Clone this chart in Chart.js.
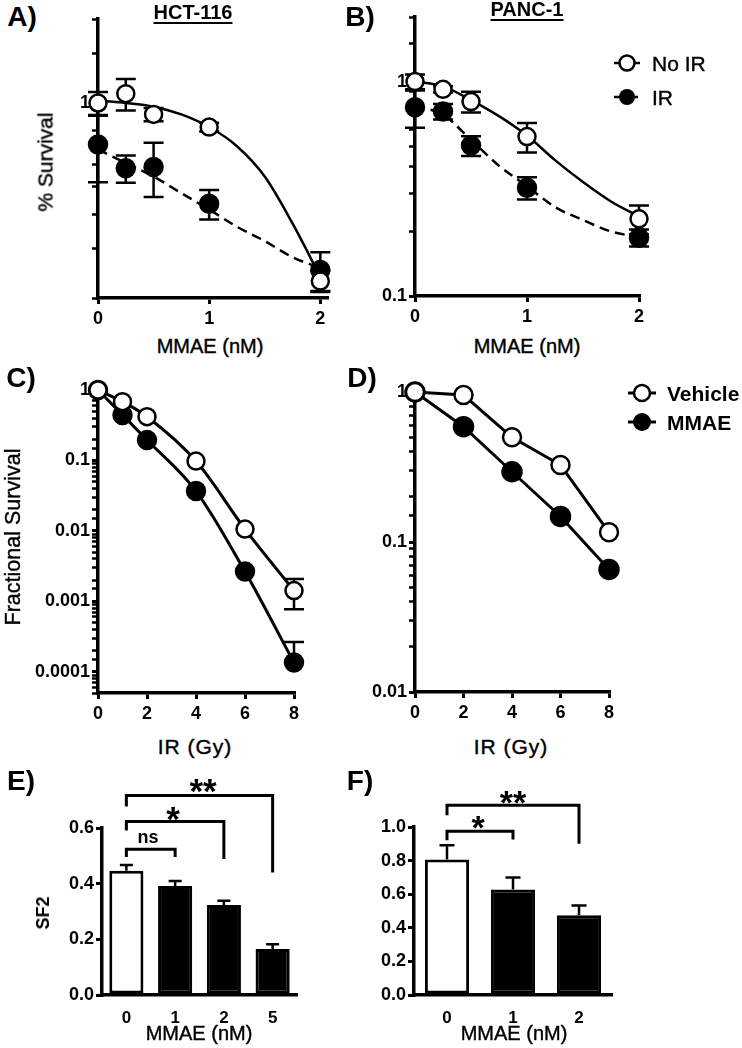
<!DOCTYPE html>
<html>
<head>
<meta charset="utf-8">
<script src="https://cdn.jsdelivr.net/npm/chart.js@4.4.0/dist/chart.umd.min.js"></script>
<style>
body{margin:0;background:#fff;font-family:"Liberation Sans",Arial,sans-serif;color:#000}
#page{position:relative;width:742px;height:1048px;overflow:hidden}
canvas{position:absolute}
.t{position:absolute;transform:translate(-50%,-50%);white-space:nowrap;line-height:1;-webkit-text-stroke:0.4px #000}
.r{transform:translate(-50%,-50%) rotate(-90deg)}
.lt{position:absolute;transform:translateY(-50%);white-space:nowrap;line-height:1;font-size:21px;-webkit-text-stroke:0.4px #000}
.sym{position:absolute;transform:translate(-50%,-50%)}
.b{font-weight:bold;-webkit-text-stroke:0}
.u{text-decoration:underline;text-underline-offset:3px}
</style>
</head>
<body>
<div id="page">
  <div class="t b" style="left:22px;top:17px;font-size:28px">A)</div>
  <div class="t b u" style="left:193px;top:12px;font-size:20px">HCT-116</div>
  <div class="t b" style="left:360px;top:17px;font-size:28px">B)</div>
  <div class="t b u" style="left:527px;top:9px;font-size:20px">PANC-1</div>
  <div class="t r" style="left:45px;top:162px;font-size:21px">% Survival</div>
  <div class="t" style="left:210px;top:346px;font-size:20px">MMAE (nM)</div>
  <div class="t" style="left:527px;top:346px;font-size:20px">MMAE (nM)</div>

  <svg class="sym" style="left:627px;top:63px" width="30" height="20"><line x1="2" y1="10" x2="28" y2="10" stroke="#000" stroke-width="2.5"/><circle cx="15" cy="10" r="7.5" fill="#fff" stroke="#000" stroke-width="2.5"/></svg>
  <div class="lt" style="left:652px;top:63px">No IR</div>
  <svg class="sym" style="left:627px;top:97px" width="30" height="20"><line x1="2" y1="10" x2="28" y2="10" stroke="#000" stroke-width="2.5" stroke-dasharray="6 3"/><circle cx="15" cy="10" r="8" fill="#000"/></svg>
  <div class="lt" style="left:652px;top:97px">IR</div>

  <div class="t b" style="left:21px;top:378px;font-size:28px">C)</div>
  <div class="t b" style="left:362px;top:378px;font-size:28px">D)</div>
  <div class="t r" style="left:14px;top:537px;font-size:21.5px">Fractional Survival</div>
  <div class="t" style="left:195px;top:746px;font-size:21px;letter-spacing:1px">IR (Gy)</div>
  <div class="t" style="left:511px;top:746px;font-size:21px;letter-spacing:1px">IR (Gy)</div>

  <svg class="sym" style="left:642px;top:393px" width="30" height="22"><line x1="1" y1="11" x2="29" y2="11" stroke="#000" stroke-width="3"/><circle cx="15" cy="11" r="8" fill="#fff" stroke="#000" stroke-width="2.5"/></svg>
  <div class="lt b" style="left:667px;top:393px">Vehicle</div>
  <svg class="sym" style="left:642px;top:422px" width="30" height="22"><line x1="1" y1="11" x2="29" y2="11" stroke="#000" stroke-width="3"/><circle cx="15" cy="11" r="9" fill="#000"/></svg>
  <div class="lt b" style="left:667px;top:422px">MMAE</div>

  <div class="t b" style="left:21px;top:781px;font-size:28px">E)</div>
  <div class="t b" style="left:360px;top:781px;font-size:28px">F)</div>
  <div class="t b r" style="left:43px;top:913px;font-size:18px">SF2</div>
  <div class="t" style="left:199px;top:1033px;font-size:20px">MMAE (nM)</div>
  <div class="t" style="left:514px;top:1033px;font-size:20px">MMAE (nM)</div>
  <div class="t b" style="left:203px;top:790px;font-size:35px">**</div>
  <div class="t b" style="left:173px;top:818px;font-size:35px">*</div>
  <div class="t b" style="left:148px;top:837px;font-size:18px">ns</div>
  <div class="t b" style="left:513px;top:802px;font-size:34px">**</div>
  <div class="t b" style="left:478px;top:827px;font-size:34px">*</div>
</div>
<script>
// === Datos ===
// A) HCT-116, survival vs MMAE
const doseMMAE = [0, 0.25, 0.5, 1, 2];
const hctNoIR = [1.0, 1.08, 0.91, 0.82, 0.23];
const hctNoIRErr = [0.095, 0.14, 0.05, 0.03, 0.02];
const hctIR = [0.71, 0.583, 0.59, 0.435, 0.252];
const hctIRErr = [0.19, 0.065, 0.13, 0.053, 0.04];
const fitDose = [0, 0.25, 0.5, 0.75, 1, 1.25, 1.5, 1.75, 2];
const hctNoIRFit = [1.02, 1.0, 0.97, 0.91, 0.82, 0.70, 0.545, 0.37, 0.238];
const hctIRFit = [0.68, 0.61, 0.545, 0.475, 0.415, 0.36, 0.32, 0.28, 0.256];

// B) PANC-1, survival vs MMAE
const pancNoIR = [1.0, 0.92, 0.807, 0.554, 0.229];
const pancNoIRErr = [0.08, 0.03, 0.09, 0.087, 0.035];
const pancIR = [0.759, 0.725, 0.503, 0.32, 0.187];
const pancIRErr = [0.15, 0.06, 0.053, 0.038, 0.017];
const pancNoIRFit = [1.0, 0.95, 0.82, 0.69, 0.56, 0.43, 0.34, 0.276, 0.235];
const pancIRFit = [0.77, 0.70, 0.535, 0.405, 0.325, 0.26, 0.226, 0.2, 0.188];

// C) HCT-116 clonogenic
const gyC = [0, 1, 2, 4, 6, 8];
const hctVehicle = [1, 0.683, 0.418, 0.098, 0.0106, 0.00142];
const hctVehicleErr = [0, 0, 0, 0, 0, 0.00065];
const hctMMAE = [1, 0.442, 0.195, 0.0368, 0.00265, 0.000135];
const hctMMAEErr = [0, 0, 0, 0, 0, 0.00013];

// D) PANC-1 clonogenic
const gyD = [0, 2, 4, 6, 8];
const pancVehicle = [1, 0.955, 0.499, 0.326, 0.116];
const pancMMAE = [1, 0.587, 0.294, 0.148, 0.0656];

// E) / F) SF2
const sf2DoseE = ["0", "1", "2", "5"];
const hctSF2 = [0.446, 0.392, 0.323, 0.165];
const hctSF2Err = [0.021, 0.018, 0.016, 0.017];
const sf2DoseF = ["0", "1", "2"];
const pancSF2 = [0.806, 0.628, 0.475];
const pancSF2Err = [0.085, 0.072, 0.058];

// brackets: [from, to, line, left end, right end]
const hctBrackets = [[0, 1, 0.524, 0.496, 0.496], [0, 2, 0.623, 0.591, 0.489], [0, 3, 0.717, 0.677, 0.44]];
const pancBrackets = [[0, 1, 0.974, 0.921, 0.925], [0, 2, 1.129, 1.07, 0.901]];

Chart.defaults.font.family = '"Liberation Sans", Arial, sans-serif';
Chart.defaults.color = "#000";

const pts = (xs, ys) => xs.map((x, i) => ({x, y: ys[i]}));
const isDecade = v => Math.abs(Math.log10(v) - Math.round(Math.log10(v))) < 1e-6;

// === Error bars ===
const errorBars = {
    id: "errorBars",
    beforeDatasetsDraw(chart) {
        const ctx = chart.ctx, ys = chart.scales.y;
        chart.data.datasets.forEach((ds, i) => {
            if (!ds.errs) return;
            const meta = chart.getDatasetMeta(i);
            ctx.save();
            ctx.strokeStyle = "#000";
            ctx.lineWidth = ds.errWidth || 2.5;
            meta.data.forEach((el, j) => {
                const e = ds.errs[j];
                if (!e) return;
                const d = ds.data[j];
                const v = typeof d === "object" ? d.y : d;
                const w = ds.capWidth / 2;
                const top = ys.getPixelForValue(v + e);
                const lowCap = !ds.upOnly && v - e > ys.min;
                const bot = ys.getPixelForValue(lowCap ? v - e : v);
                ctx.beginPath();
                ctx.moveTo(el.x, top); ctx.lineTo(el.x, bot);
                ctx.moveTo(el.x - w, top); ctx.lineTo(el.x + w, top);
                if (lowCap) { ctx.moveTo(el.x - w, bot); ctx.lineTo(el.x + w, bot); }
                ctx.stroke();
            });
            ctx.restore();
        });
    }
};

// === Brackets ===
function bracketPlugin(items) {
    return {
        id: "brackets",
        afterDatasetsDraw(chart) {
            const ctx = chart.ctx, xs = chart.scales.x, ys = chart.scales.y;
            ctx.save();
            ctx.strokeStyle = "#000";
            ctx.lineWidth = 3;
            items.forEach(([a, b, line, endA, endB]) => {
                const x0 = xs.getPixelForValue(a), x1 = xs.getPixelForValue(b);
                ctx.beginPath();
                ctx.moveTo(x0, ys.getPixelForValue(endA));
                ctx.lineTo(x0, ys.getPixelForValue(line));
                ctx.lineTo(x1, ys.getPixelForValue(line));
                ctx.lineTo(x1, ys.getPixelForValue(endB));
                ctx.stroke();
            });
            ctx.restore();
        }
    };
}

// === Panel ===
function renderPanel(box, area, type, datasets, scales, labels, extra) {
    const page = document.getElementById("page");
    const cv = document.createElement("canvas");
    cv.width = box.w; cv.height = box.h;
    cv.style.left = box.x + "px"; cv.style.top = box.y + "px";
    page.insertBefore(cv, page.firstChild);
    scales.x.afterFit = s => { s.height = box.y + box.h - area.b; };
    scales.y.afterFit = s => { s.width = area.l - box.x; };
    new Chart(cv, {
        type,
        data: {labels, datasets},
        options: {
            responsive: false,
            animation: false,
            layout: {padding: {left: 0, top: area.t - box.y, right: box.x + box.w - area.r, bottom: 0}},
            plugins: {legend: {display: false}, tooltip: {enabled: false}},
            scales
        },
        plugins: [errorBars].concat(extra || [])
    });
}

const axisBorder = {color: "#000", width: 3.5};
const tickGrid = {drawOnChartArea: false, color: "#000", lineWidth: 3, tickLength: 6,
    tickWidth: c => (c.tick && c.scale.type === "logarithmic" && !isDecade(c.tick.value)) ? 2.5 : 3};

function logY(min, max) {
    return {type: "logarithmic", min, max, border: axisBorder, grid: tickGrid,
        ticks: {autoSkip: false, padding: 2, font: {size: 18, weight: "bold"},
            callback: v => isDecade(v) ? String(+v.toPrecision(6)) : ""}};
}
function linX(max, step) {
    return {type: "linear", min: 0, max, border: axisBorder, grid: tickGrid,
        ticks: {stepSize: step, includeBounds: false, padding: 4, font: {size: 18, weight: "bold"}}};
}

function dots(data, errs, filled, r, cap) {
    return {data, errs, capWidth: cap, showLine: false, clip: false,
        pointRadius: r, pointHoverRadius: r, pointBorderWidth: 2.5,
        pointBackgroundColor: filled ? "#000" : "#fff", pointBorderColor: "#000", borderColor: "#000"};
}
function fit(data, dashed) {
    return {data, showLine: true, pointRadius: 0, borderColor: "#000", borderWidth: 2.5, fill: false,
        cubicInterpolationMode: "monotone", borderDash: dashed ? [10, 6] : []};
}
function curve(ds, smooth) {
    return Object.assign(ds, {showLine: true, borderWidth: 3, cubicInterpolationMode: smooth ? "monotone" : "default"});
}

// A) HCT-116
renderPanel({x: 38, y: 0, w: 310, h: 335}, {l: 98, t: 19, r: 327, b: 298}, "scatter", [
    dots(pts(doseMMAE, hctNoIR), hctNoIRErr, false, 8.5, 20),
    dots(pts(doseMMAE, hctIR), hctIRErr, true, 9, 20),
    fit(pts(fitDose, hctNoIRFit), false),
    fit(pts(fitDose, hctIRFit), true)
], {x: linX(2.06, 1), y: logY(0.2, 2)});

// B) PANC-1
renderPanel({x: 355, y: 0, w: 305, h: 335}, {l: 415, t: 17, r: 639, b: 296}, "scatter", [
    dots(pts(doseMMAE, pancNoIR), pancNoIRErr, false, 8.5, 20),
    dots(pts(doseMMAE, pancIR), pancIRErr, true, 9, 20),
    fit(pts(fitDose, pancNoIRFit), false),
    fit(pts(fitDose, pancIRFit), true)
], {x: linX(2, 1), y: logY(0.1, 2)});

// C) HCT-116 IR
renderPanel({x: 20, y: 370, w: 300, h: 360}, {l: 98, t: 390, r: 294, b: 693}, "scatter", [
    curve(dots(pts(gyC, hctVehicle), hctVehicleErr, false, 8.5, 20), true),
    curve(dots(pts(gyC, hctMMAE), hctMMAEErr, true, 9, 20), true)
], {x: linX(8, 2), y: logY(0.00005, 1)});

// D) PANC-1 IR
renderPanel({x: 355, y: 372, w: 280, h: 360}, {l: 415, t: 392, r: 609, b: 692}, "scatter", [
    curve(dots(pts(gyD, pancVehicle), null, false, 9, 20), false),
    curve(dots(pts(gyD, pancMMAE), null, true, 9.5, 20), false)
], {x: linX(8, 2), y: logY(0.01, 1)});

// E) / F) SF2 bars
function barScales(max) {
    return {
        x: {type: "category", offset: true, border: axisBorder, grid: {display: false},
            ticks: {padding: 5, font: {size: 17, weight: "bold"}}},
        y: {type: "linear", min: 0, max, border: axisBorder, grid: tickGrid,
            ticks: {stepSize: 0.2, padding: 2, font: {size: 18, weight: "bold"}, callback: v => v.toFixed(1)}}
    };
}
function bars(values, errs, cap, pct) {
    return [{data: values, errs, capWidth: cap, upOnly: true,
        backgroundColor: values.map((v, i) => i === 0 ? "#fff" : "#000"),
        borderColor: "#000", borderWidth: 3, borderSkipped: false,
        barPercentage: pct, categoryPercentage: 1}];
}
renderPanel({x: 40, y: 780, w: 280, h: 268}, {l: 102, t: 828, r: 297, b: 995}, "bar",
    bars(hctSF2, hctSF2Err, 13, 0.7), barScales(0.6), sf2DoseE, [bracketPlugin(hctBrackets)]);
renderPanel({x: 355, y: 780, w: 280, h: 268}, {l: 414, t: 827, r: 612, b: 995}, "bar",
    bars(pancSF2, pancSF2Err, 15, 0.67), barScales(1.0), sf2DoseF, [bracketPlugin(pancBrackets)]);
</script>
</body>
</html>
